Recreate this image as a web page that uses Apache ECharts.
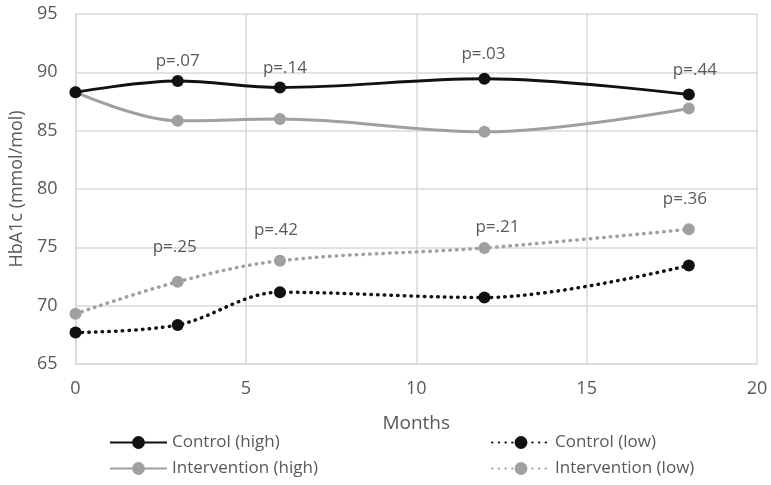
<!DOCTYPE html>
<html><head><meta charset="utf-8">
<script src="https://cdn.jsdelivr.net/npm/echarts@6/dist/echarts.min.js"></script>
<style>html,body{margin:0;padding:0;background:#fff}#c{width:771px;height:485px}</style>
</head><body><div id="c"></div>
<script>
const months = [0, 3, 6, 12, 18];
const controlHigh = [88.3, 89.25, 88.7, 89.45, 88.1];
const interventionHigh = [88.3, 85.85, 86.0, 84.9, 86.9];
const controlLow = [67.7, 68.35, 71.15, 70.7, 73.45];
const interventionLow = [69.3, 72.05, 73.85, 74.95, 76.55];
const pHigh = ['', 'p=.07', 'p=.14', 'p=.03', 'p=.44'];
const pLow = ['', 'p=.25', 'p=.42', 'p=.21', 'p=.36'];
const pHighOffset = [[0,0],[0,0],[5,0],[-1,-5],[6,-5]];
const pLowOffset = [[0,0],[-3,-15],[-4,-11],[13,-1],[-4,-11]];
const yTicks = [65, 70, 75, 80, 85, 90, 95];
const xTicks = [0, 5, 10, 15, 20];

const FONT = 'Open Sans';
const TXT = '#595959';
const DARK = '#111111';
const GRAY = '#a0a0a0';

function pts(vals, labels, offs) {
  return months.map((m, i) => {
    const o = { value: [m, vals[i]] };
    if (labels && labels[i]) {
      o.label = { show: true, position: 'top', formatter: labels[i], offset: offs[i],
        color: TXT, fontSize: 17, fontFamily: FONT };
    }
    return o;
  });
}

const chart = echarts.init(document.getElementById('c'));
chart.setOption({
  animation: false,
  backgroundColor: '#fff',
  textStyle: { fontFamily: FONT },
  grid: { left: 75.5, right: 14, top: 14, bottom: 121, containLabel: false },
  xAxis: {
    type: 'value', min: 0, max: 20, interval: 5,
    name: 'Months', nameLocation: 'middle', nameGap: 50,
    nameTextStyle: { color: TXT, fontSize: 19, fontFamily: FONT },
    axisLine: { show: true, lineStyle: { color: '#d9d9d9', width: 1.5 } },
    axisTick: { show: false },
    axisLabel: { color: TXT, fontSize: 18, margin: 16, fontFamily: FONT },
    splitLine: { show: true, lineStyle: { color: '#d9d9d9', width: 1.5 } }
  },
  yAxis: {
    type: 'value', min: 65, max: 95, interval: 5,
    name: 'HbA1c (mmol/mol)', nameLocation: 'middle', nameGap: 46, nameRotate: 90,
    nameTextStyle: { color: TXT, fontSize: 18, fontFamily: FONT },
    axisLine: { show: true, lineStyle: { color: '#d9d9d9', width: 1.5 } },
    axisTick: { show: false },
    axisLabel: { color: TXT, fontSize: 18, margin: 18, fontFamily: FONT },
    splitLine: { show: true, lineStyle: { color: '#d9d9d9', width: 1.5 } }
  },
  legend: [
    { data: ['Control (high)'], left: 109, top: 434, itemWidth: 57 },
    { data: ['Control (low)'], left: 491, top: 434, itemWidth: 58 },
    { data: ['Intervention (high)'], left: 109, top: 460, itemWidth: 57 },
    { data: ['Intervention (low)'], left: 491, top: 460, itemWidth: 58 }
  ].map(l => Object.assign(l, {
    itemHeight: 16, itemGap: 4, padding: 0,
    textStyle: { color: TXT, fontSize: 17, fontFamily: FONT }
  })),
  series: [
    { name: 'Control (high)', type: 'line', smooth: 0.35, data: pts(controlHigh, pHigh, pHighOffset),
      symbol: 'circle', symbolSize: 12, z: 4,
      lineStyle: { color: DARK, width: 3 }, itemStyle: { color: DARK } },
    { name: 'Control (low)', type: 'line', smooth: 0.35, data: pts(controlLow),
      symbol: 'circle', symbolSize: 12, z: 4,
      lineStyle: { color: DARK, width: 3.5, type: [0.5, 6.2], cap: 'round' }, itemStyle: { color: DARK } },
    { name: 'Intervention (high)', type: 'line', smooth: 0.35, data: pts(interventionHigh),
      symbol: 'circle', symbolSize: 12, z: 3,
      lineStyle: { color: GRAY, width: 3 }, itemStyle: { color: GRAY } },
    { name: 'Intervention (low)', type: 'line', smooth: 0.35, data: pts(interventionLow, pLow, pLowOffset),
      symbol: 'circle', symbolSize: 12, z: 3,
      lineStyle: { color: GRAY, width: 3.5, type: [0.5, 6.2], cap: 'round' }, itemStyle: { color: GRAY } }
  ]
});
</script>
</body></html>
